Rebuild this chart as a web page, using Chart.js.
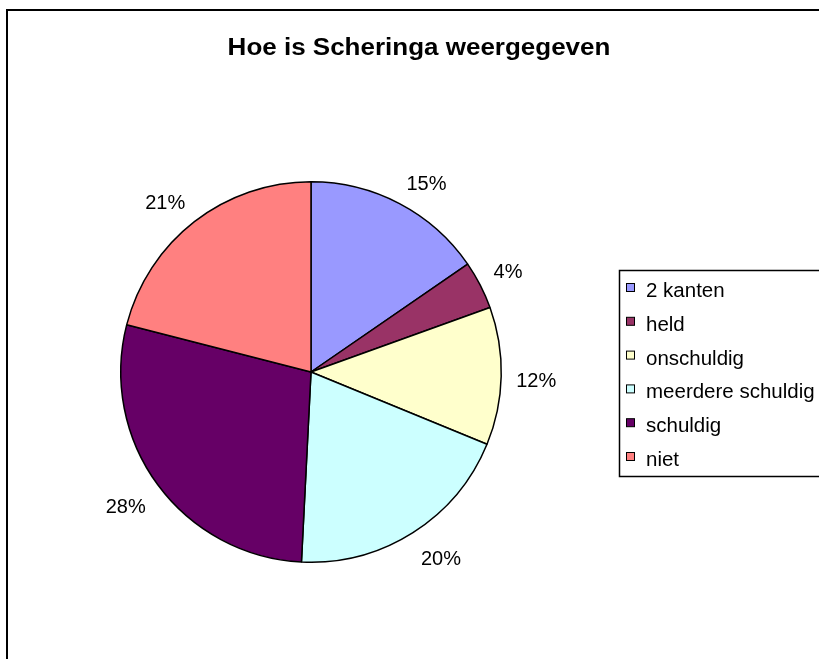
<!DOCTYPE html>
<html>
<head>
<meta charset="utf-8">
<title>Hoe is Scheringa weergegeven</title>
<script src="https://cdn.jsdelivr.net/npm/chart.js@4.4.1/dist/chart.umd.min.js"></script>
<style>
  html, body { margin: 0; padding: 0; background: #fff; }
  canvas { display: block; }
</style>
</head>
<body>
<canvas id="chart" width="819" height="659"></canvas>
<script>
// Data
const chartTitle = 'Hoe is Scheringa weergegeven'
const categories = ['2 kanten', 'held', 'onschuldig', 'meerdere schuldig', 'schuldig', 'niet']
const shares = [15.4, 4.1, 11.7, 19.6, 28.2, 21.0]
const sliceColors = ['#9999FF', '#993366', '#FFFFCC', '#CCFFFF', '#660066', '#FF8080']

const fontFamily = '"Liberation Sans", Arial, sans-serif'

// Frame around the whole chart (left and top edge visible)
const framePlugin = {
  id: 'frame',
  beforeDraw(chart) {
    const ctx = chart.ctx
    ctx.save()
    ctx.fillStyle = '#fff'
    ctx.fillRect(0, 0, chart.width, chart.height)
    ctx.strokeStyle = '#000'
    ctx.lineWidth = 2
    ctx.beginPath()
    ctx.moveTo(7, chart.height + 2)
    ctx.lineTo(7, 10)
    ctx.lineTo(chart.width + 2, 10)
    ctx.stroke()
    ctx.restore()
  }
}

// Title, drawn a little wider like the original
const titlePlugin = {
  id: 'excelTitle',
  afterDraw(chart) {
    const ctx = chart.ctx
    ctx.save()
    ctx.font = 'bold 23px ' + fontFamily
    ctx.fillStyle = '#000'
    ctx.textAlign = 'center'
    ctx.textBaseline = 'alphabetic'
    ctx.translate(419, 55)
    ctx.scale(1.13, 1)
    ctx.fillText(chartTitle, 0, 0)
    ctx.restore()
  }
}

// Percentage labels outside each slice, pushed away from the arc by half the label box
const percentPlugin = {
  id: 'percentLabels',
  afterDatasetsDraw(chart) {
    const ctx = chart.ctx
    const meta = chart.getDatasetMeta(0)
    const values = chart.data.datasets[0].data
    const total = values.reduce((a, b) => a + b, 0)
    const clamp = v => Math.max(-1, Math.min(1, v))
    ctx.save()
    ctx.font = '20px ' + fontFamily
    ctx.fillStyle = '#000'
    ctx.textAlign = 'center'
    ctx.textBaseline = 'middle'
    meta.data.forEach((arc, i) => {
      const p = arc.getProps(['x', 'y', 'startAngle', 'endAngle', 'outerRadius'], true)
      const mid = (p.startAngle + p.endAngle) / 2
      const dx = Math.cos(mid)
      const dy = Math.sin(mid)
      const r = p.outerRadius + 15
      const text = Math.round(values[i] / total * 100) + '%'
      const w = ctx.measureText(text).width
      const cx = p.x + dx * r + clamp(dx * 2.5) * w / 2
      const cy = p.y + dy * r + clamp(dy * 2.5) * 10 + 4
      ctx.fillText(text, cx, cy)
    })
    ctx.restore()
  }
}

// Boxed legend on the right
const legendPlugin = {
  id: 'boxLegend',
  afterDraw(chart) {
    const ctx = chart.ctx
    const ds = chart.data.datasets[0]
    ctx.save()
    ctx.strokeStyle = '#000'
    ctx.lineWidth = 1.5
    ctx.strokeRect(619.5, 270.5, 260, 206)
    ctx.font = '20.5px ' + fontFamily
    ctx.textAlign = 'left'
    ctx.textBaseline = 'alphabetic'
    chart.data.labels.forEach((label, i) => {
      const base = 297 + i * 33.8
      ctx.fillStyle = ds.backgroundColor[i]
      ctx.fillRect(626.5, base - 13.5, 8, 8)
      ctx.lineWidth = 1
      ctx.strokeRect(626.5, base - 13.5, 8, 8)
      ctx.fillStyle = '#000'
      ctx.fillText(label, 646, base)
    })
    ctx.restore()
  }
}

new Chart(document.getElementById('chart'), {
  type: 'pie',
  data: {
    labels: categories,
    datasets: [{
      data: shares,
      backgroundColor: sliceColors,
      borderColor: '#000',
      borderWidth: 1.5
    }]
  },
  options: {
    responsive: false,
    animation: false,
    events: [],
    layout: {
      padding: { left: 120, top: 181, right: 317, bottom: 96 }
    },
    plugins: {
      legend: { display: false },
      title: { display: false },
      tooltip: { enabled: false }
    }
  },
  plugins: [framePlugin, titlePlugin, percentPlugin, legendPlugin]
})
</script>
</body>
</html>
